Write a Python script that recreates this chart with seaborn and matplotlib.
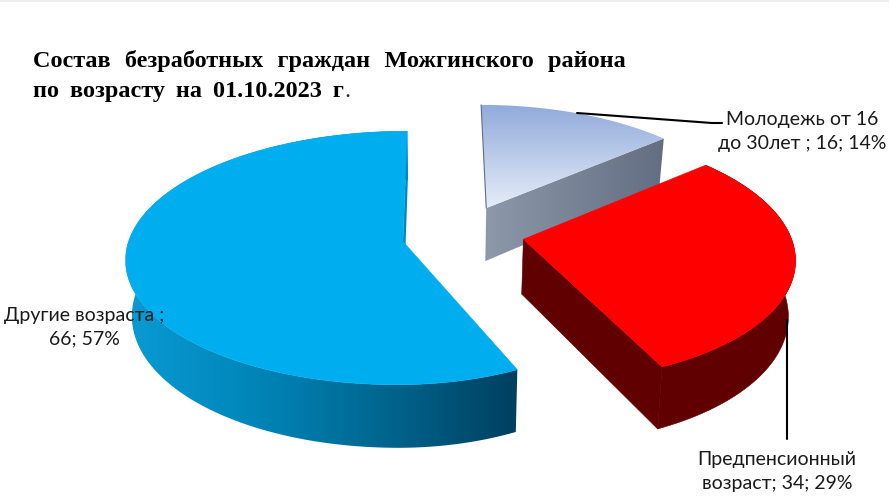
import numpy as np
import pandas as pd
import seaborn as sns
import matplotlib.pyplot as plt
from matplotlib.colors import LinearSegmentedColormap
from matplotlib.patches import Polygon

# Data
groups = ['Молодежь от 16 до 30лет', 'Предпенсионный возраст', 'Другие возраста']
values = [16, 34, 66]
labels = ['Молодежь от 16\nдо 30лет ; 16; 14%', 'Предпенсионный\nвозраст; 34; 29%', 'Другие возраста ;\n66; 57%']
title_lines = ['Состав  \u200aбезработных  \u200aграждан  \u200aМожгинского  \u200aрайона',
               'по \u2009возрасту \u2009на \u200901.10.2023 \u2009г']

data = pd.DataFrame({'group': groups, 'value': values})
data['stop'] = data['value'].cumsum() / data['value'].sum() * 2 * np.pi
data['start'] = data['stop'].shift(fill_value=0.0)

# Fake 3D view of the pie, in pixels of the picture
X0, Y0, A, B, K, H, G = 440, 243, 279, 125, 0.13, 55, 0.98
explode = [(0.172, 0.29), (0.300, 0.03), (-0.133, 0.012)]
squeeze_right = [0.955, 0.965, 0.90]
squeeze_left = [1.0, 1.0, 0.985]


def project(x, y, low=False):
    f = 1 / (1 + K * y)
    sx = X0 + A * x * f
    sy = Y0 - B * y * f
    if low:
        sx = X0 + (sx - X0) * G
        sy = sy + H * f
    return np.column_stack([sx, sy])


def slice_shape(n):
    row = data.iloc[n]
    off = explode[n]
    t = np.linspace(row['start'], row['stop'], 160)
    s = np.sin(t)
    x = off[0] + np.where(s > 0, s * squeeze_right[n], s * squeeze_left[n])
    y = off[1] + np.cos(t)
    ox, oy = np.array([off[0]]), np.array([off[1]])
    return project(x, y), project(x, y, low=True), project(ox, oy), project(ox, oy, low=True)


def gradient_in(ax, pts, cols, horizontal, zorder):
    cmap = LinearSegmentedColormap.from_list('g', cols)
    xs, ys = pts[:, 0], pts[:, 1]
    grad = np.linspace(0, 1, 256)
    grad = grad.reshape(1, -1) if horizontal else grad.reshape(-1, 1)
    im = ax.imshow(grad, cmap=cmap, extent=(xs.min(), xs.max(), ys.max(), ys.min()),
                   aspect='auto', zorder=zorder, interpolation='bilinear')
    clip = Polygon(pts, closed=True, transform=ax.transData, fc='none', ec='none')
    ax.add_patch(clip)
    im.set_clip_path(clip)


sns.set_theme(style='white')
plt.rcParams['font.family'] = ['Lato', 'DejaVu Sans']

fig = plt.figure(figsize=(8.89, 4.96), dpi=100)
ax = fig.add_axes([0, 0, 1, 1])

# light blue slice, back
hi, lo, apex, apex_lo = slice_shape(0)
gradient_in(ax, np.vstack([apex, hi[-1], lo[-1], apex_lo]), ['#8e98ab', '#646e82'], True, 1)
gradient_in(ax, np.vstack([apex, hi]), ['#90aadb', '#e6edf8'], False, 2)
ax.plot(*np.vstack([apex, hi[0]]).T, color='#5d6d8c', lw=0.8, zorder=3)

# big blue slice
hi, lo, apex, apex_lo = slice_shape(2)
wall_cols = sns.blend_palette(['#0a9ad4', '#0085b8', '#00658e', '#003f5f'], 8)
gradient_in(ax, np.vstack([hi, lo[::-1]]), wall_cols, True, 4)
ax.add_patch(Polygon(np.vstack([apex, hi[-1], lo[-1], apex_lo]), fc='#0087bd', ec='none', zorder=4))
ax.add_patch(Polygon(np.vstack([apex, hi]), fc='#00aeef', ec='#00aeef', lw=0.4, zorder=5))

# red slice, front
hi, lo, apex, apex_lo = slice_shape(1)
ax.add_patch(Polygon(np.vstack([hi, lo[::-1]]), fc='#600000', ec='#600000', lw=0.4, zorder=6))
ax.add_patch(Polygon(np.vstack([apex, hi[-1], lo[-1], apex_lo]), fc='#600000', ec='#600000', lw=0.4, zorder=6))
ax.add_patch(Polygon(np.vstack([apex, hi]), fc='#ff0000', ec='#ff0000', lw=0.4, zorder=7))

# leader lines
sns.lineplot(x=[577, 712, 722], y=[113, 123, 123], sort=False, estimator=None, color='black', lw=1.5, ax=ax, zorder=8)
sns.lineplot(x=[787, 787], y=[320, 439], sort=False, estimator=None, color='black', lw=1.5, ax=ax, zorder=8)

# texts
text_style = dict(ha='center', va='center', fontsize=14, color='#1a1a1a', linespacing=1.5, zorder=9)
ax.text(802, 131, labels[0], **text_style)
ax.text(777, 471, labels[1], **text_style)
ax.text(84, 327, labels[2], **text_style)

title_font = {'family': ['Liberation Serif', 'DejaVu Serif'], 'weight': 'bold', 'size': 17.5, 'color': 'black'}
ax.text(33, 67, title_lines[0], ha='left', va='baseline', **title_font)
t2 = ax.text(33, 97, title_lines[1], ha='left', va='baseline', **title_font)
ax.annotate('.', xy=(1, 0), xycoords=t2, ha='left', va='bottom', fontsize=17.5, family='Liberation Serif',
            annotation_clip=False)

ax.axhline(0.5, color='#eeeeee', lw=1.5, zorder=0)
ax.set_xlim(0, 889)
ax.set_ylim(496, 0)
ax.axis('off')

fig.savefig('out.png', dpi=100)
